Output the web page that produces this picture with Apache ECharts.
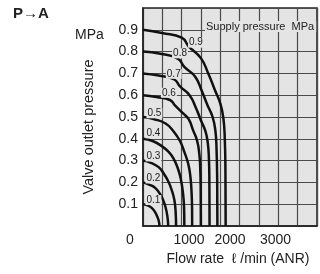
<!DOCTYPE html>
<html>
<head>
<meta charset="utf-8" />
<title>ECharts</title>
<script src="https://cdn.jsdelivr.net/npm/echarts@6/dist/echarts.min.js"></script>
</head>
<body style="margin:0">
<div id="main" style="width:320px;height:274px;"></div>
<script type="text/javascript">
// x = flow rate (l/min ANR), y = valve outlet pressure (MPa), one curve per supply pressure
var supply = ['0.1', '0.2', '0.3', '0.4', '0.5', '0.6', '0.7', '0.8', '0.9'];
var curve01 = [[0, 0.10], [100, 0.095], [200, 0.083], [270, 0.066], [320, 0.047], [360, 0.025], [380, 0]];
var curve02 = [[0, 0.20], [140, 0.19], [280, 0.175], [380, 0.15], [460, 0.12], [520, 0.085], [560, 0.045], [580, 0]];
var curve03 = [[0, 0.30], [180, 0.29], [360, 0.27], [480, 0.24], [580, 0.205], [660, 0.165], [720, 0.12], [750, 0.065], [760, 0]];
var curve04 = [[0, 0.40], [220, 0.39], [440, 0.365], [590, 0.34], [700, 0.31], [800, 0.265], [870, 0.215], [920, 0.15], [945, 0.08], [950, 0]];
var curve05 = [[0, 0.50], [260, 0.49], [520, 0.47], [700, 0.435], [850, 0.39], [950, 0.34], [1040, 0.285], [1090, 0.225], [1115, 0.16], [1128, 0.08], [1130, 0]];
var curve06 = [[0, 0.60], [310, 0.592], [620, 0.578], [740, 0.552], [930, 0.515], [1050, 0.49], [1150, 0.44], [1245, 0.39], [1295, 0.33], [1315, 0.27], [1326, 0.17], [1330, 0]];
var curve07 = [[0, 0.70], [360, 0.69], [720, 0.672], [850, 0.64], [1070, 0.60], [1210, 0.545], [1330, 0.485], [1435, 0.435], [1490, 0.38], [1515, 0.31], [1526, 0.195], [1530, 0]];
var curve08 = [[0, 0.80], [400, 0.79], [800, 0.768], [950, 0.73], [1200, 0.685], [1350, 0.62], [1480, 0.555], [1600, 0.50], [1665, 0.435], [1690, 0.355], [1705, 0.22], [1710, 0]];
var curve09 = [[0, 0.90], [440, 0.885], [890, 0.864], [1050, 0.824], [1330, 0.77], [1500, 0.70], [1650, 0.625], [1780, 0.56], [1850, 0.49], [1880, 0.40], [1895, 0.25], [1900, 0]];
// where each supply pressure tag sits (flow, MPa)
var tagAt = [[240, 0.119], [240, 0.218], [240, 0.319], [240, 0.425], [262, 0.517], [596, 0.611], [707, 0.698], [851, 0.792], [1218, 0.841]];
var yTicks = ['0.1', '0.2', '0.3', '0.4', '0.5', '0.6', '0.7', '0.8', '0.9'];
var xTicks = ['0', '1000', '2000', '3000'];

var curves = [curve01, curve02, curve03, curve04, curve05, curve06, curve07, curve08, curve09];
var bg = '#e4e4e4';
var ink = '#222';
var fam = 'Liberation Sans';

var chart = echarts.init(document.getElementById('main'));

var series = curves.map(function (d, i) {
    return {
        type: 'line',
        data: d,
        smooth: 0.5,
        symbol: 'none',
        lineStyle: { color: '#111', width: 2.5 },
        markPoint: {
            symbol: 'rect',
            symbolSize: 1,
            itemStyle: { color: 'transparent' },
            label: {
                show: true,
                formatter: supply[i],
                fontSize: 10,
                fontFamily: fam,
                color: ink,
                backgroundColor: bg,
                padding: [0, 1]
            },
            data: [{ coord: tagAt[i] }]
        }
    };
});

var option = {
    animation: false,
    grid: {
        left: 143, top: 8, width: 180, height: 218,
        show: true, backgroundColor: bg, borderColor: ink, borderWidth: 1.5
    },
    xAxis: [{
        type: 'value', min: 0, max: 4000, interval: 4000 / 9,
        axisLine: { lineStyle: { color: ink, width: 1.5 } },
        axisTick: { show: false },
        axisLabel: { show: false },
        splitLine: { show: true, lineStyle: { color: '#4a4a4a', width: 1.2 } }
    }, {
        type: 'value', min: 0, max: 4000, interval: 1000, position: 'bottom',
        axisLine: { show: false },
        axisTick: { show: false },
        splitLine: { show: false },
        axisLabel: {
            margin: 7,
            fontSize: 14,
            fontFamily: fam,
            color: ink,
            formatter: function (v) {
                var i = Math.round(v / 1000);
                if (i > 3) return '';
                return '{t' + i + '|' + xTicks[i] + '}';
            },
            rich: {
                t0: { fontSize: 14, color: ink, fontFamily: fam, padding: [0, 26, 0, 0] },
                t1: { fontSize: 14, color: ink, fontFamily: fam, padding: [0, 0, 0, 5] },
                t2: { fontSize: 14, color: ink, fontFamily: fam, padding: [0, 0, 4, 0] },
                t3: { fontSize: 14, color: ink, fontFamily: fam, padding: [0, 0, 0, 4] }
            }
        },
        name: 'Flow rate  \u2113 /min (ANR)',
        nameLocation: 'middle',
        nameGap: 24,
        nameTextStyle: { fontSize: 14, color: ink, fontFamily: fam, padding: [0, 0, 0, 16] }
    }],
    yAxis: {
        type: 'value', min: 0, max: 1, interval: 0.1,
        axisLine: { show: true, lineStyle: { color: ink, width: 1.5 } },
        axisTick: { show: false },
        axisLabel: {
            margin: 5,
            fontSize: 14,
            fontFamily: fam,
            color: ink,
            formatter: function (v) {
                var i = Math.round(v * 10);
                return (i >= 1 && i <= 9) ? yTicks[i - 1] : '';
            }
        },
        splitLine: { show: true, lineStyle: { color: '#4a4a4a', width: 1.2 } },
        name: 'Valve outlet pressure',
        nameLocation: 'middle',
        nameRotate: 90,
        nameGap: 47,
        nameTextStyle: { fontSize: 14.5, color: ink, fontFamily: fam, padding: [0, 20, 0, 0] }
    },
    graphic: [{
        type: 'text', left: 13, top: 6,
        style: { text: 'P\u2192A', font: 'bold 15px "Liberation Sans"', fill: ink }
    }, {
        type: 'text', left: 75, top: 28,
        style: { text: 'MPa', font: '14px "Liberation Sans"', fill: ink }
    }, {
        type: 'text', left: 205, top: 21, z: 10,
        style: {
            text: 'Supply pressure  MPa', font: '11px "Liberation Sans"', fill: ink,
            backgroundColor: bg, padding: [0, 2, 0, 1]
        }
    }],
    series: series
};

chart.setOption(option);
</script>
</body>
</html>
